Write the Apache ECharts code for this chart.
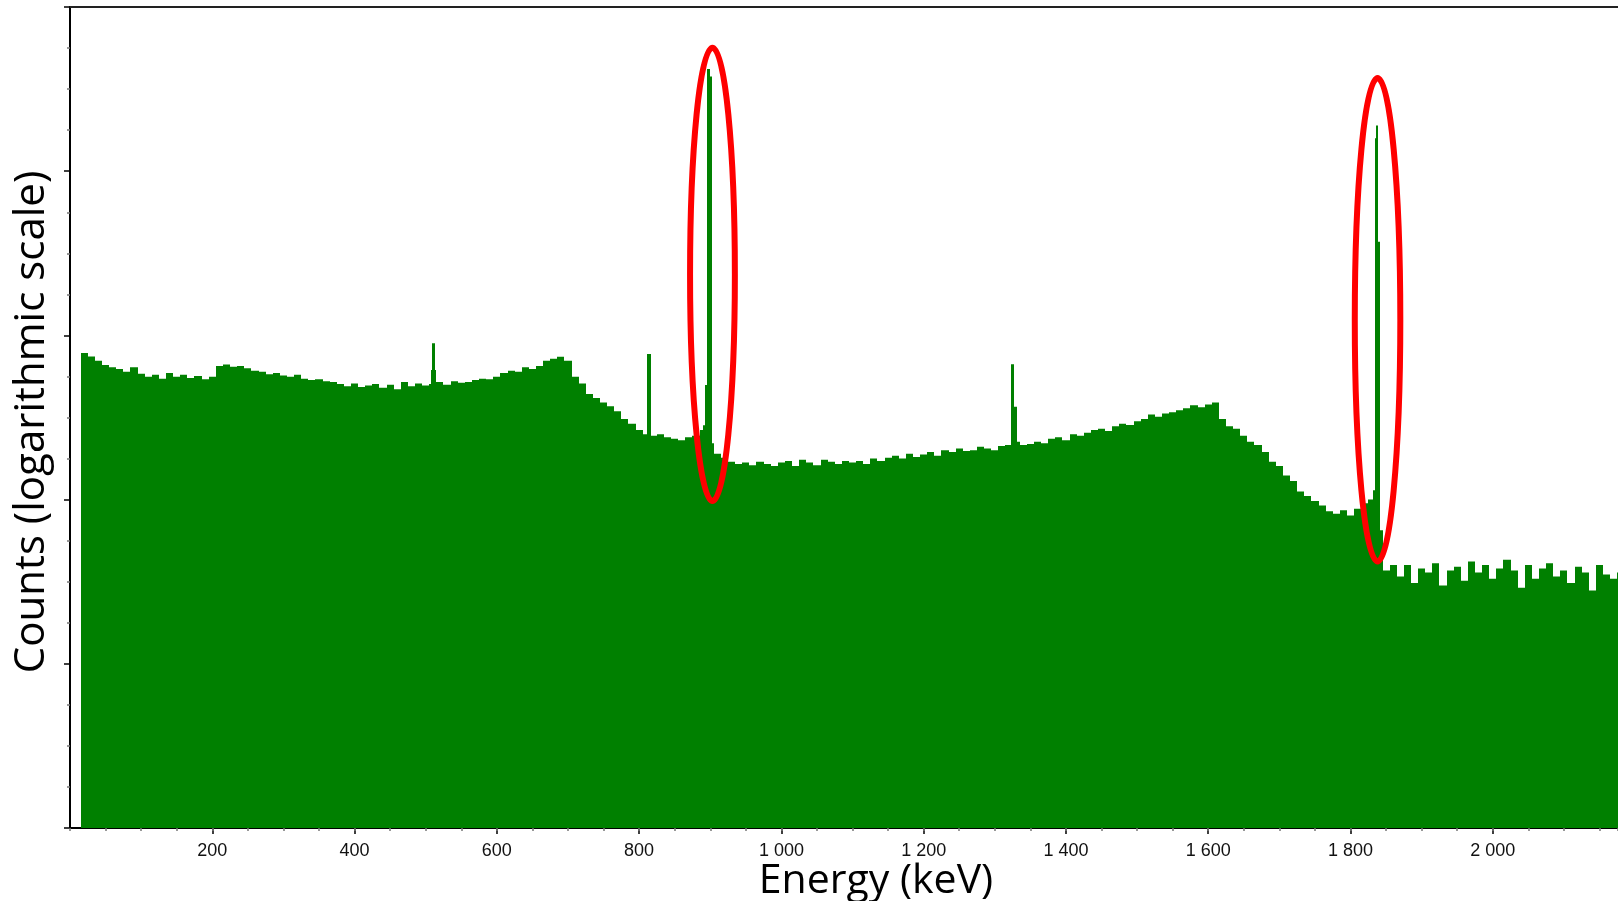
<!DOCTYPE html>
<html>
<head>
<meta charset="utf-8">
<title>Spectrum</title>
<script src="https://cdn.jsdelivr.net/npm/echarts@6/dist/echarts.min.js"></script>
<style>
  html, body { margin: 0; padding: 0; background: #fff; }
  #chart { width: 1618px; height: 901px; }
</style>
</head>
<body>
<div id="chart"></div>
<script>
// spectrum background, 10 keV bins starting at 15 keV
var binStart = 15;
var binWidth = 10;
var counts = [
    780, 745, 700, 660, 640, 625, 600, 640, 585, 560,
    575, 545, 590, 560, 575, 550, 565, 540, 560, 650,
    665, 645, 650, 630, 610, 600, 580, 590, 570, 560,
    575, 545, 535, 540, 525, 520, 505, 490, 510, 485,
    495, 505, 480, 500, 470, 520, 490, 510, 495, 505,
    520, 500, 525, 515, 520, 535, 545, 540, 560, 590,
    610, 600, 640, 625, 650, 700, 720, 740, 700, 560,
    510, 440, 415, 390, 370, 345, 310, 290, 265, 250,
    245, 250, 240, 235, 230, 240, 245, 265, 220, 190,
    180, 170, 165, 168, 162, 170, 165, 160, 168, 172,
    160, 175, 168, 162, 175, 170, 165, 172, 168, 172,
    165, 178, 172, 180, 185, 178, 190, 182, 188, 195,
    185, 200, 195, 205, 198, 200, 210, 205, 200, 212,
    215, 225, 215, 218, 225, 220, 235, 240, 230, 250,
    245, 255, 265, 270, 262, 280, 290, 285, 300, 310,
    330, 320, 335, 340, 350, 360, 375, 365, 380, 390,
    310, 280, 270, 245, 225, 215, 195, 170, 160, 140,
    130, 112, 105, 98, 92, 85, 82, 86, 80, 88,
    95, 100, 58, 37, 40, 34, 40, 31, 38, 36,
    41, 30, 37, 39, 32, 42, 36, 40, 33, 38,
    43, 37, 29, 40, 33, 38, 41, 34, 37, 31,
    39, 36, 28, 40, 35, 33, 36, 34
];

// narrow channels of the photopeaks (keV from, keV to, counts)
var peakFrom   = [507, 509.5, 811, 889.5, 893, 896, 899.5, 1323, 1327, 1831.5, 1834.6, 1836.5, 1839, 1842];
var peakTo     = [515, 512.5, 817, 893, 896, 899.5, 903, 1327, 1331, 1834.6, 1836.5, 1839, 1842, 1845];
var peakCounts = [615, 895, 771, 284, 499, 41900, 37700, 667, 368, 114, 15900, 18970, 3720, 65];

// red rings around the two main peaks
var ringEnergy = [[871.6, 934.6], [1806, 1870]];
var ringCounts = [[98, 56500], [42, 36900]];

var energyMax = 2176;

var binData = counts.map(function (c, i) {
    return [binStart + i * binWidth, binStart + (i + 1) * binWidth, c];
});
var peakData = peakCounts.map(function (c, i) {
    return [peakFrom[i], peakTo[i], c];
});

function renderBin(params, api) {
    var top = api.coord([api.value(0), api.value(2)]);
    var end = api.coord([api.value(1), 1]);
    var x0 = Math.round(top[0]);
    var x1 = Math.round(end[0]);
    return {
        type: 'rect',
        shape: { x: x0, y: top[1], width: Math.max(1, x1 - x0), height: end[1] - top[1] },
        style: { fill: '#008000' }
    };
}

var myChart = echarts.init(document.getElementById('chart'));

var option = {
    animation: false,
    backgroundColor: '#fff',
    grid: { left: 70, top: 7, right: 0, bottom: 73 },
    xAxis: [
        {
            type: 'value',
            min: 0,
            max: energyMax,
            interval: 200,
            axisLine: { lineStyle: { color: '#000', width: 2 } },
            axisTick: { length: 6, lineStyle: { color: '#000', width: 1.5 } },
            splitLine: { show: false },
            axisLabel: {
                showMinLabel: false,
                showMaxLabel: false,
                margin: 14,
                fontFamily: 'Liberation Sans',
                fontSize: 18,
                color: '#111',
                formatter: function (v) {
                    return String(v).replace(/\B(?=(\d{3})+(?!\d))/g, ' ');
                }
            }
        },
        {
            // frame line on top
            type: 'value',
            position: 'top',
            min: 0,
            max: energyMax,
            axisLine: { show: true, lineStyle: { color: '#222', width: 2 } },
            axisTick: { show: false },
            axisLabel: { show: false },
            splitLine: { show: false }
        },
        {
            // 50 keV small ticks
            type: 'value',
            position: 'bottom',
            offset: 0,
            min: 0,
            max: energyMax,
            interval: 50,
            axisLine: { show: false },
            axisTick: { length: 3, lineStyle: { color: '#777', width: 1.5 } },
            axisLabel: { show: false },
            splitLine: { show: false }
        }
    ],
    yAxis: [
        {
            // decades of the log axis, for the ticks only
            type: 'value',
            position: 'left',
            min: 0,
            max: 5,
            interval: 1,
            axisLine: { show: true, lineStyle: { color: '#000', width: 2 } },
            axisTick: { show: true, length: 6, lineStyle: { color: '#000', width: 1.5 } },
            minorTick: { show: true, splitNumber: 4, length: 3, lineStyle: { color: '#777', width: 1.5 } },
            axisLabel: { show: false },
            splitLine: { show: false }
        },
        {
            type: 'log',
            logBase: 10,
            min: 1,
            max: 100000,
            show: false
        }
    ],
    series: [
        {
            type: 'custom',
            xAxisIndex: 0,
            yAxisIndex: 1,
            clip: true,
            encode: { x: [0, 1], y: 2 },
            renderItem: renderBin,
            data: binData
        },
        {
            type: 'custom',
            xAxisIndex: 0,
            yAxisIndex: 1,
            clip: true,
            encode: { x: [0, 1], y: 2 },
            renderItem: renderBin,
            data: peakData
        }
    ]
};

myChart.setOption(option);

// rings and axis titles
var graphics = [];
ringEnergy.forEach(function (e, i) {
    var xa = myChart.convertToPixel({ xAxisIndex: 0 }, e[0]);
    var xb = myChart.convertToPixel({ xAxisIndex: 0 }, e[1]);
    var ya = myChart.convertToPixel({ yAxisIndex: 1 }, ringCounts[i][0]);
    var yb = myChart.convertToPixel({ yAxisIndex: 1 }, ringCounts[i][1]);
    graphics.push({
        type: 'ellipse',
        z: 100,
        shape: { cx: (xa + xb) / 2, cy: (ya + yb) / 2, rx: Math.abs(xb - xa) / 2, ry: Math.abs(ya - yb) / 2 },
        style: { fill: null, stroke: '#ff0000', lineWidth: 6 }
    });
});
graphics.push({
    type: 'text',
    x: 876, y: 881,
    style: {
        text: 'Energy (keV)',
        font: '41px "Open Sans"',
        fill: '#000',
        textAlign: 'center',
        textVerticalAlign: 'middle'
    }
});
graphics.push({
    type: 'text',
    x: 32, y: 422,
    rotation: Math.PI / 2,
    style: {
        text: 'Counts (logarithmic scale)',
        font: '42px "Open Sans"',
        fill: '#000',
        textAlign: 'center',
        textVerticalAlign: 'middle'
    }
});

myChart.setOption({ graphic: graphics });
</script>
</body>
</html>
